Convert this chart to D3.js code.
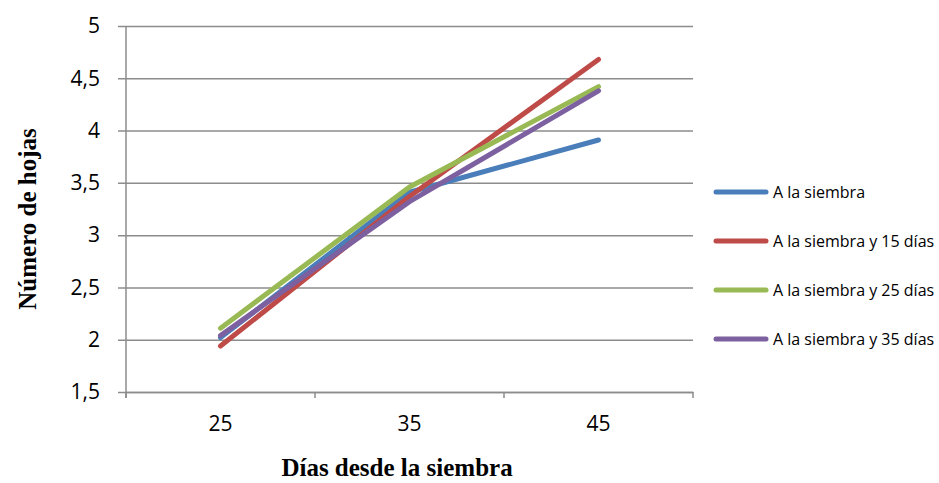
<!DOCTYPE html>
<html>
<head>
<meta charset="utf-8">
<script src="https://cdn.jsdelivr.net/npm/d3@7"></script>
<style>
  body { margin: 0; background: #fff; }
</style>
</head>
<body>
<div id="chart"></div>
<script>
// data
let days = ["25", "35", "45"];
let seriesNames = ["A la siembra", "A la siembra y 15 días", "A la siembra y 25 días", "A la siembra y 35 días"];
let siembra = [2.02, 3.41, 3.91];
let siembra15 = [1.94, 3.37, 4.68];
let siembra25 = [2.11, 3.46, 4.42];
let siembra35 = [2.04, 3.32, 4.38];
let yTicks = [1.5, 2, 2.5, 3, 3.5, 4, 4.5, 5];
let colors = ["#4a7ebb", "#be4b48", "#98b954", "#7d60a0"];

let allSeries = [siembra, siembra15, siembra25, siembra35];

let width = 939, height = 483;
let margin = {top: 26, right: 246, bottom: 91, left: 126};
let w = width - margin.left - margin.right,
    h = height - margin.top - margin.bottom;

let svg = d3.select("#chart")
    .append("svg")
        .attr("width", width)
        .attr("height", height);

let g = svg.append("g")
    .attr("transform", "translate(" + margin.left + "," + margin.top + ")");

let x = d3.scaleBand()
    .domain(days)
    .range([0, w]);

let y = d3.scaleLinear()
    .domain([1.5, 5])
    .range([h, 0]);

let fmt = d => String(d).replace(".", ",");

// horizontal grid + y axis
let yAxis = g.append("g")
    .call(d3.axisLeft(y).tickValues(yTicks).tickSize(8).tickFormat(fmt));
yAxis.select(".domain").remove();
yAxis.selectAll(".tick line")
    .attr("x2", w)
    .attr("x1", -8)
    .attr("stroke", "#8c8c8c")
    .attr("stroke-width", 1.5);
yAxis.selectAll(".tick text")
    .attr("x", -26)
    .style("font-family", "'Open Sans', sans-serif")
    .style("font-size", "21px")
    .attr("fill", "#000");

g.append("line")
    .attr("x1", 0).attr("x2", 0)
    .attr("y1", 0).attr("y2", h + 6)
    .attr("stroke", "#8c8c8c")
    .attr("stroke-width", 1.5);

// x axis
let xAxis = g.append("g")
    .attr("transform", "translate(0," + h + ")")
    .call(d3.axisBottom(x).tickSize(0).tickPadding(24));
xAxis.select(".domain")
    .attr("stroke", "#8c8c8c")
    .attr("stroke-width", 1.5);
xAxis.selectAll(".tick text")
    .style("font-family", "'Open Sans', sans-serif")
    .style("font-size", "21px")
    .attr("fill", "#000");

// category boundary ticks
let bounds = days.map(d => x(d)).concat([w]);
xAxis.selectAll(".bound")
    .data(bounds)
    .join("line")
    .attr("class", "bound")
    .attr("x1", d => d).attr("x2", d => d)
    .attr("y1", 0).attr("y2", 6)
    .attr("stroke", "#8c8c8c")
    .attr("stroke-width", 1.5);

// lines
let line = d3.line()
    .x((d, i) => x(days[i]) + x.bandwidth() / 2)
    .y(d => y(d));

g.selectAll(".series")
    .data(allSeries)
    .join("path")
    .attr("class", "series")
    .attr("d", d => line(d))
    .attr("fill", "none")
    .attr("stroke", (d, i) => colors[i])
    .attr("stroke-width", 5)
    .attr("stroke-linecap", "round")
    .attr("stroke-linejoin", "round");

// legend
let legend = svg.append("g")
    .attr("transform", "translate(716,192)");

let items = legend.selectAll(".item")
    .data(seriesNames)
    .join("g")
    .attr("class", "item")
    .attr("transform", (d, i) => "translate(0," + i * 49 + ")");

items.append("line")
    .attr("x1", 0).attr("x2", 50)
    .attr("stroke", (d, i) => colors[i])
    .attr("stroke-width", 5)
    .attr("stroke-linecap", "round");

items.append("text")
    .attr("x", 57)
    .attr("dy", "0.35em")
    .style("font-family", "'Open Sans', sans-serif")
    .style("font-size", "16px")
    .text(d => d);

// axis titles
svg.append("text")
    .attr("x", 397)
    .attr("y", 476)
    .attr("text-anchor", "middle")
    .style("font-family", "'Liberation Serif', 'Times New Roman', serif")
    .style("font-weight", "bold")
    .style("font-size", "25px")
    .text("Días desde la siembra");

svg.append("text")
    .attr("transform", "translate(36,219)rotate(-90)")
    .attr("text-anchor", "middle")
    .style("font-family", "'Liberation Serif', 'Times New Roman', serif")
    .style("font-weight", "bold")
    .style("font-size", "25px")
    .text("Número de hojas");
</script>
</body>
</html>
